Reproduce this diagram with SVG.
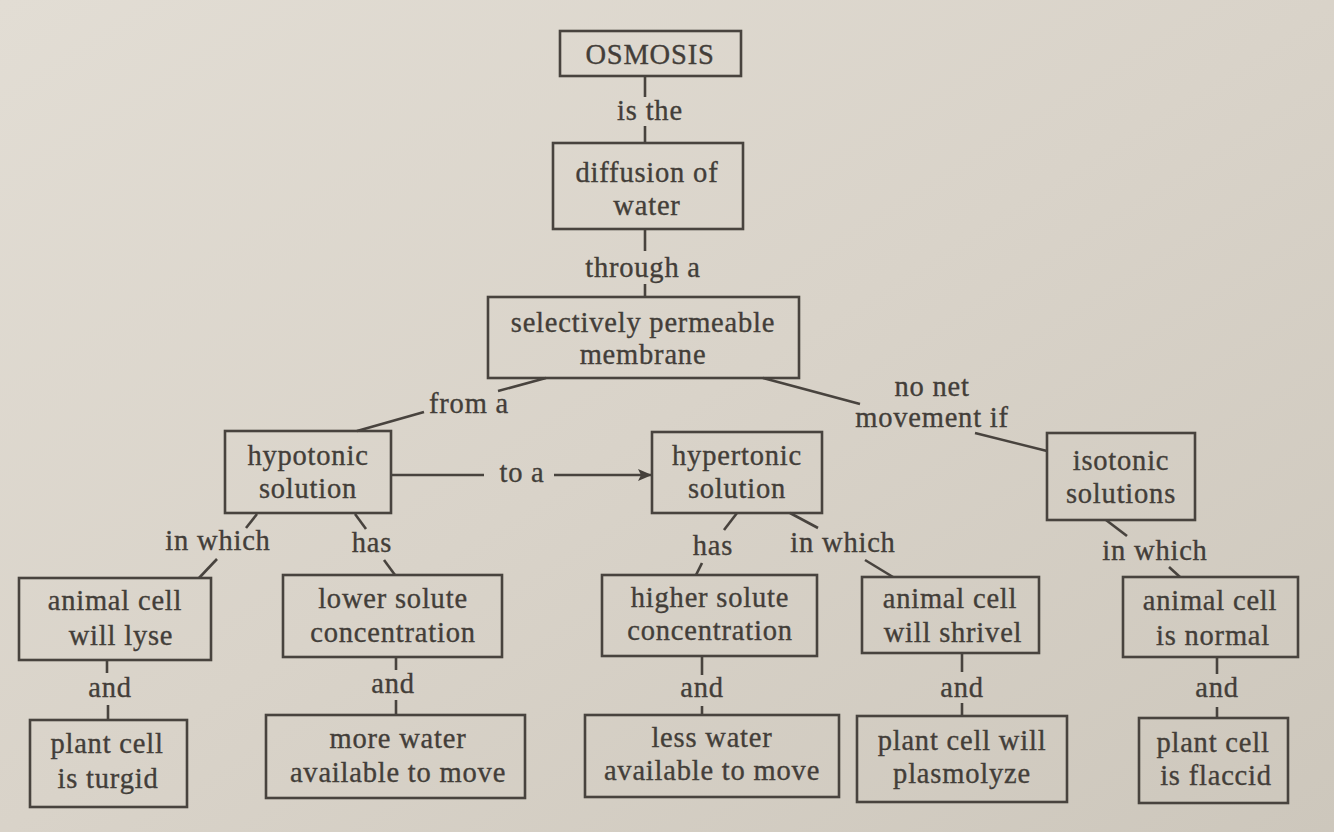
<svg xmlns="http://www.w3.org/2000/svg" width="1334" height="832" viewBox="0 0 1334 832">
<defs>
<linearGradient id="bg" x1="0" y1="0" x2="1" y2="1">
<stop offset="0" stop-color="#e2ddd4"/>
<stop offset="0.5" stop-color="#d9d3c9"/>
<stop offset="1" stop-color="#cdc7bc"/>
</linearGradient>
<marker id="arr" markerWidth="14" markerHeight="12" refX="13" refY="6" orient="auto" markerUnits="userSpaceOnUse">
<path d="M0,0 L14,6 L0,12 L3,6 Z" fill="#45403b"/>
</marker>
<style>
.box{fill:none;stroke:#48433e;stroke-width:2.6}
.t{font-family:"Liberation Serif","Times New Roman",serif;font-size:28.5px;letter-spacing:0.8px;fill:#433e39;stroke:#433e39;stroke-width:0.35;text-anchor:middle}
.c line{stroke:#48433e;stroke-width:2.6}
</style>
</defs>
<rect width="1334" height="832" fill="url(#bg)"/>

<g class="c" id="connectors">
<line x1="645" y1="76" x2="645" y2="97"/>
<line x1="645" y1="126" x2="645" y2="143"/>
<line x1="645" y1="229" x2="645" y2="251"/>
<line x1="645" y1="284" x2="645" y2="297"/>
<line x1="546" y1="378" x2="498" y2="391"/>
<line x1="424" y1="412" x2="357" y2="431"/>
<line x1="763" y1="378" x2="860" y2="404"/>
<line x1="975" y1="433" x2="1047" y2="451"/>
<line x1="391" y1="475" x2="484" y2="475"/>
<line x1="554" y1="475" x2="651" y2="475" marker-end="url(#arr)"/>
<line x1="257" y1="514" x2="246" y2="528"/>
<line x1="217" y1="559" x2="199" y2="578"/>
<line x1="355" y1="514" x2="366" y2="529"/>
<line x1="384" y1="560" x2="395" y2="575"/>
<line x1="737" y1="513" x2="724" y2="530"/>
<line x1="702" y1="563" x2="696" y2="575"/>
<line x1="790" y1="513" x2="818" y2="528"/>
<line x1="865" y1="560" x2="893" y2="577"/>
<line x1="1106" y1="520" x2="1127" y2="536"/>
<line x1="1169" y1="567" x2="1180" y2="577"/>
<line x1="107" y1="660" x2="107" y2="673"/>
<line x1="108" y1="705" x2="108" y2="720"/>
<line x1="396" y1="657" x2="396" y2="670"/>
<line x1="396" y1="700" x2="396" y2="715"/>
<line x1="702" y1="656" x2="702" y2="675"/>
<line x1="702" y1="706" x2="702" y2="715"/>
<line x1="962" y1="653" x2="962" y2="672"/>
<line x1="962" y1="703" x2="962" y2="716"/>
<line x1="1217" y1="657" x2="1217" y2="674"/>
<line x1="1217" y1="707" x2="1217" y2="718"/>
</g>

<g id="labels">
<text class="t" x="650" y="120">is  the</text>
<text class="t" x="643" y="277">through  a</text>
<text class="t" x="469" y="413">from a</text>
<text class="t" x="932" y="396">no net</text>
<text class="t" x="932" y="427">movement  if</text>
<text class="t" x="522" y="482">to a</text>
<text class="t" x="218" y="550">in which</text>
<text class="t" x="372" y="552">has</text>
<text class="t" x="713" y="555">has</text>
<text class="t" x="843" y="552">in which</text>
<text class="t" x="1155" y="560">in which</text>
<text class="t" x="110" y="697">and</text>
<text class="t" x="393" y="693">and</text>
<text class="t" x="702" y="697">and</text>
<text class="t" x="962" y="697">and</text>
<text class="t" x="1217" y="697">and</text>
</g>

<g id="osmosis"><rect class="box" x="560" y="31" width="181" height="45"/><text class="t" x="650" y="64">OSMOSIS</text></g>
<g id="diffusion"><rect class="box" x="553" y="143" width="190" height="86"/><text class="t" x="647" y="182">diffusion of</text><text class="t" x="647" y="215">water</text></g>
<g id="membrane"><rect class="box" x="488" y="297" width="311" height="81"/><text class="t" x="643" y="332">selectively permeable</text><text class="t" x="643" y="364">membrane</text></g>
<g id="hypotonic"><rect class="box" x="225" y="431" width="166" height="82"/><text class="t" x="308" y="465">hypotonic</text><text class="t" x="308" y="498">solution</text></g>
<g id="hypertonic"><rect class="box" x="652" y="432" width="170" height="81"/><text class="t" x="737" y="465">hypertonic</text><text class="t" x="737" y="498">solution</text></g>
<g id="isotonic"><rect class="box" x="1047" y="433" width="148" height="87"/><text class="t" x="1121" y="470">isotonic</text><text class="t" x="1121" y="503">solutions</text></g>
<g id="lyse"><rect class="box" x="19" y="578" width="192" height="82"/><text class="t" x="115" y="610">animal cell</text><text class="t" x="121" y="645">will lyse</text></g>
<g id="lower"><rect class="box" x="283" y="575" width="219" height="82"/><text class="t" x="393" y="608">lower solute</text><text class="t" x="393" y="642">concentration</text></g>
<g id="higher"><rect class="box" x="602" y="575" width="215" height="81"/><text class="t" x="710" y="607">higher solute</text><text class="t" x="710" y="640">concentration</text></g>
<g id="shrivel"><rect class="box" x="862" y="577" width="177" height="76"/><text class="t" x="950" y="608">animal cell</text><text class="t" x="953" y="642">will shrivel</text></g>
<g id="normal"><rect class="box" x="1123" y="577" width="175" height="80"/><text class="t" x="1210" y="610">animal cell</text><text class="t" x="1213" y="645">is normal</text></g>
<g id="turgid"><rect class="box" x="30" y="720" width="157" height="87"/><text class="t" x="107" y="753">plant cell</text><text class="t" x="108" y="788">is turgid</text></g>
<g id="morewater"><rect class="box" x="266" y="715" width="259" height="83"/><text class="t" x="398" y="748">more water</text><text class="t" x="398" y="782">available to move</text></g>
<g id="lesswater"><rect class="box" x="585" y="715" width="254" height="82"/><text class="t" x="712" y="747">less water</text><text class="t" x="712" y="780">available to move</text></g>
<g id="plasmolyze"><rect class="box" x="857" y="716" width="210" height="86"/><text class="t" x="962" y="750">plant cell will</text><text class="t" x="962" y="783">plasmolyze</text></g>
<g id="flaccid"><rect class="box" x="1139" y="718" width="149" height="85"/><text class="t" x="1213" y="752">plant cell</text><text class="t" x="1216" y="785">is flaccid</text></g>
</svg>
